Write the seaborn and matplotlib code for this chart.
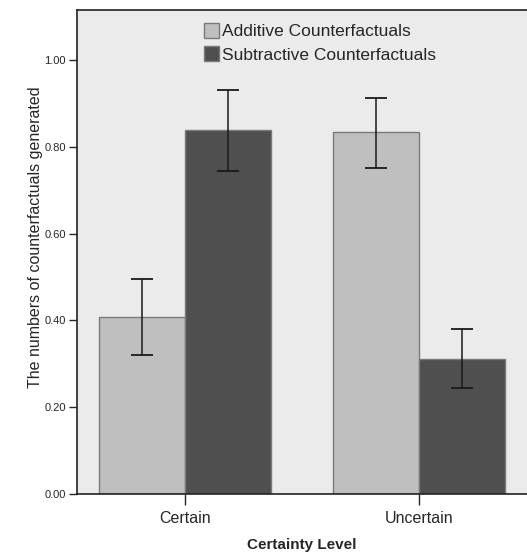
import seaborn as sns
import matplotlib.pyplot as plt
import pandas as pd

sns.set_style("white")
plt.rcParams['font.family'] = ['Liberation Sans', 'DejaVu Sans']

levels = ["Certain", "Uncertain"]
types = ["Additive Counterfactuals", "Subtractive Counterfactuals"]
additive = [0.408, 0.833]
subtractive = [0.838, 0.312]
add_lo = [0.320, 0.752]
add_hi = [0.496, 0.913]
sub_lo = [0.744, 0.245]
sub_hi = [0.932, 0.380]

df = pd.DataFrame({
    "level": levels * 2,
    "type": [types[0]] * 2 + [types[1]] * 2,
    "value": additive + subtractive,
})

fig = plt.figure(figsize=(5.27, 5.59), dpi=100)
ax = fig.add_axes([0.146, 0.116, 0.854, 0.866])
ax.set_facecolor("#ebebeb")

sns.barplot(data=df, x="level", y="value", hue="type", order=levels, hue_order=types,
            palette=["#bfbfbf", "#4f4f4f"], width=0.735, errorbar=None,
            edgecolor="#7a7a7a", linewidth=1, saturation=1, ax=ax)

# error bars, centred on each bar
lo = add_lo + sub_lo
hi = add_hi + sub_hi
vals = additive + subtractive
for p, v, l, h in zip(ax.patches[:4], vals, lo, hi):
    cx = p.get_x() + p.get_width() / 2
    ax.errorbar(cx, v, yerr=[[v - l], [h - v]], color="#1a1a1a", capsize=8,
                elinewidth=1.1, capthick=1.3)

ax.set_xlim(-0.46, 1.46)
ax.set_ylim(0, 1.115)
ax.set_yticks([0, 0.2, 0.4, 0.6, 0.8, 1.0])
ax.set_yticklabels(["0.00", "0.20", "0.40", "0.60", "0.80", "1.00"], fontsize=8)
ax.tick_params(axis="y", direction="out", length=6, width=1, left=True, pad=2)
ax.tick_params(axis="x", direction="out", length=8, width=1, bottom=True, labelsize=11.5, pad=4)
for s in ["left", "bottom", "top"]:
    ax.spines[s].set_color("#222222")
    ax.spines[s].set_linewidth(1.2)
ax.spines["right"].set_visible(False)

ax.set_xlabel("Certainty Level", fontsize=11, fontweight="bold", labelpad=9)
ax.set_ylabel("The numbers of counterfactuals generated", fontsize=11.5)
ax.yaxis.set_label_coords(-0.075, 0.531)

leg = ax.legend(loc="upper center", bbox_to_anchor=(0.54, 1.005), frameon=False, fontsize=12.5,
                handlelength=0.9, handleheight=0.9, handletextpad=0.15, labelspacing=0.4)

fig.savefig("out.png", dpi=100)
